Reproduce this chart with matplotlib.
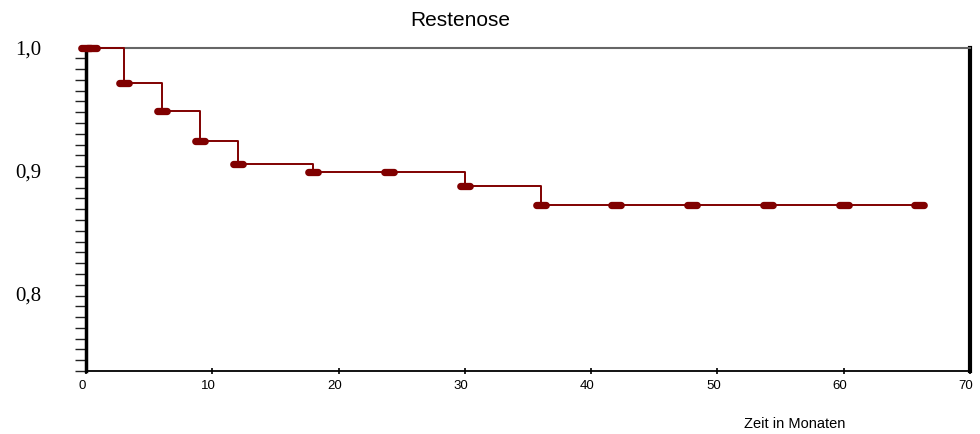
import numpy as np
import matplotlib
matplotlib.use("Agg")
import matplotlib.pyplot as plt
from matplotlib.path import Path
from matplotlib.ticker import FixedLocator, NullFormatter
from matplotlib.transforms import ScaledTranslation

# Kaplan-Meier estimate: times (months) where the curve drops, and level after each drop
event_times = [3, 6, 9, 12, 18, 30, 36]
survival_after = [0.971, 0.948, 0.924, 0.905, 0.899, 0.887, 0.872]
follow_up_end = 66

# censored observations (months)
censor_times = [0, 0.5, 3, 6, 9, 12, 18, 24, 30, 36, 42, 48, 54, 60, 66]

x_ticks = [0, 10, 20, 30, 40, 50, 60, 70]
y_ticks = [0.8, 0.9, 1.0]
y_tick_labels = ["0,8", "0,9", "1,0"]

title = "Restenose"
x_label = "Zeit in Monaten"

curve_color = "#800000"

# step curve
t = np.array([0] + event_times + [follow_up_end], dtype=float)
s = np.array([1.0] + survival_after + [survival_after[-1]])


def level_at(x):
    idx = np.searchsorted(t, x, side="right") - 1
    return s[idx]


censor_levels = [level_at(x) for x in censor_times]

# stadium-shaped censoring mark
a, r = 4.5, 3.5
ang_r = np.linspace(-np.pi / 2, np.pi / 2, 15)
ang_l = np.linspace(np.pi / 2, 3 * np.pi / 2, 15)
verts = np.vstack([
    np.column_stack([a + r * np.cos(ang_r), r * np.sin(ang_r)]),
    np.column_stack([-a + r * np.cos(ang_l), r * np.sin(ang_l)]),
])
verts = np.vstack([verts, verts[:1]])
pill = Path(verts, closed=True)

fig = plt.figure(figsize=(9.8, 4.34), dpi=100)
ax = fig.add_axes([86 / 980, 1 - 371 / 434, (970 - 86) / 980, (371 - 47.5) / 434])

ymin = 0.737
ax.set_xlim(0, 70)
ax.set_ylim(ymin, 1.0)

ax.plot(t, s, drawstyle="steps-post", color=curve_color, lw=1.4, clip_on=False, zorder=3)
ax.plot(censor_times, censor_levels, linestyle="none", marker=pill, markersize=12,
        color=curve_color, markeredgewidth=0, clip_on=False, zorder=4)

# spines
ax.spines["top"].set_color("#666666")
ax.spines["top"].set_linewidth(1.5)
ax.spines["right"].set_color("black")
ax.spines["right"].set_linewidth(3)
ax.spines["left"].set_color("black")
ax.spines["left"].set_linewidth(2.5)
ax.spines["bottom"].set_color("black")
ax.spines["bottom"].set_linewidth(1.3)

# x axis
ax.set_xticks(x_ticks)
ax.set_xticklabels([str(v) for v in x_ticks], fontfamily="Liberation Sans", fontsize=9.5)
ax.tick_params(axis="x", direction="inout", length=5, width=1.2, pad=4)
shift = ScaledTranslation(-4 / 100, 0, fig.dpi_scale_trans)
for lbl in ax.get_xticklabels():
    lbl.set_transform(lbl.get_transform() + shift)

# y axis
ax.set_yticks(y_ticks)
ax.set_yticklabels(y_tick_labels, fontfamily="Liberation Serif", fontsize=15)
ax.tick_params(axis="y", which="major", length=0, pad=32)
ax.yaxis.set_minor_locator(FixedLocator(np.linspace(ymin, 1.0, 31)[:-1]))
ax.yaxis.set_minor_formatter(NullFormatter())
ax.tick_params(axis="y", which="minor", direction="out", length=8, width=1, color="#222222")

fig.text(460 / 980, 1 - 20 / 434, title, ha="center", va="center",
         fontfamily="Liberation Sans", fontsize=15)
fig.text(794.5 / 980, 1 - 424 / 434, x_label, ha="center", va="center",
         fontfamily="Liberation Sans", fontsize=10.5)

fig.savefig("out.png", dpi=100)
